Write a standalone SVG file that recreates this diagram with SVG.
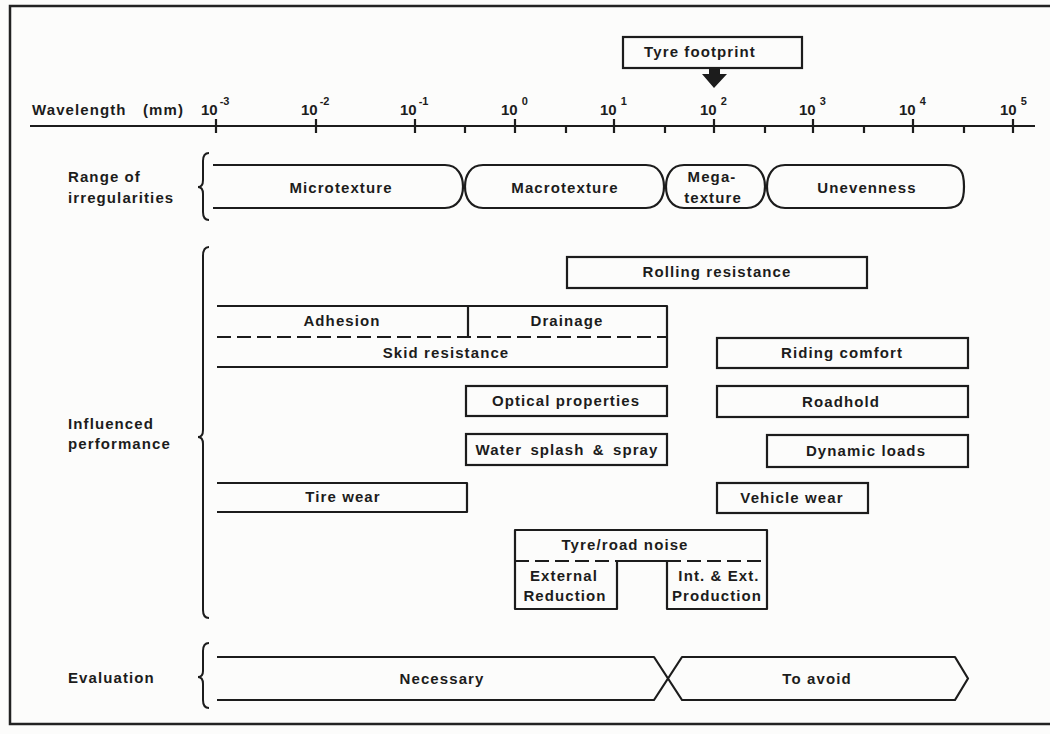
<svg xmlns="http://www.w3.org/2000/svg" width="1050" height="734" viewBox="0 0 1050 734">
<style>
.t{font-family:"Liberation Sans",Arial,Helvetica,sans-serif;font-weight:bold;font-size:15px;letter-spacing:1.1px;fill:#1c1c1c}
.c{text-anchor:middle}
.ax{font-family:"Liberation Sans",Arial,Helvetica,sans-serif;font-weight:bold;font-size:15px;fill:#1c1c1c}
.sup{font-size:11px}
.ln{fill:none;stroke:#1c1c1c;stroke-width:2.2;stroke-linejoin:round;stroke-linecap:butt}
.box{fill:none;stroke:#1c1c1c;stroke-width:2.2}
.dash{fill:none;stroke:#1c1c1c;stroke-width:2;stroke-dasharray:14 6}
.br{fill:none;stroke:#1c1c1c;stroke-width:2}
</style>
<rect width="1050" height="734" fill="#fcfcfb"/>
<rect x="10" y="6" width="1045" height="718" fill="none" stroke="#222" stroke-width="2.5"/>

<g id="axis">
  <text class="t" x="32" y="115">Wavelength</text>
  <text class="t" x="143" y="115">(mm)</text>
  <line class="ln" x1="30" y1="126" x2="1035" y2="126"/>
  <path class="ln" d="M216 119V133M316 119V133M415 119V133M515 119V133M614 119V133M714 119V133M813 119V133M913 119V133M1013 119V133"/>
  <path class="ln" d="M465 126V133M566 126V133M665 126V133M765 126V133M864 126V133M964 126V133"/>
  <text class="ax" x="201" y="115">10<tspan class="sup" dx="2" dy="-10">-3</tspan></text>
  <text class="ax" x="301" y="115">10<tspan class="sup" dx="2" dy="-10">-2</tspan></text>
  <text class="ax" x="400" y="115">10<tspan class="sup" dx="2" dy="-10">-1</tspan></text>
  <text class="ax" x="501" y="115">10<tspan class="sup" dx="4" dy="-10">0</tspan></text>
  <text class="ax" x="600" y="115">10<tspan class="sup" dx="4" dy="-10">1</tspan></text>
  <text class="ax" x="700" y="115">10<tspan class="sup" dx="4" dy="-10">2</tspan></text>
  <text class="ax" x="799" y="115">10<tspan class="sup" dx="4" dy="-10">3</tspan></text>
  <text class="ax" x="899" y="115">10<tspan class="sup" dx="4" dy="-10">4</tspan></text>
  <text class="ax" x="1000" y="115">10<tspan class="sup" dx="4" dy="-10">5</tspan></text>
</g>

<g id="tyre-footprint">
  <rect class="box" x="623" y="37" width="179" height="31"/>
  <text class="t c" x="700" y="57">Tyre footprint</text>
</g>

<g id="labels">
  <text class="t" x="68" y="182">Range of</text>
  <text class="t" x="68" y="203">irregularities</text>
  <text class="t" x="68" y="429">Influenced</text>
  <text class="t" x="68" y="449">performance</text>
  <text class="t" x="68" y="683">Evaluation</text>
  <path class="br" d="M209 153Q203 153 203 161V180Q203 187 198 187Q203 187 203 194V212Q203 220 209 220"/>
  <path class="br" d="M209 247Q203 247 203 256V430Q203 437 198 437Q203 437 203 444V610Q203 618 209 618"/>
  <path class="br" d="M209 643Q203 643 203 651V671Q203 677 198 677Q203 677 203 684V700Q203 708 209 708"/>
</g>

<g id="microtexture">
  <path class="ln" d="M213 165H445C458 165 463 176 463 186.5C463 197 458 208 445 208H213"/>
  <text class="t c" x="341" y="193">Microtexture</text>
</g>
<g id="macrotexture">
  <path class="ln" d="M483 165C470 165 465 176 465 186.5C465 197 470 208 483 208H646C659 208 664 197 664 186.5C664 176 659 165 646 165Z"/>
  <text class="t c" x="565" y="193">Macrotexture</text>
</g>
<g id="megatexture">
  <path class="ln" d="M684 165C671 165 666 176 666 186.5C666 197 671 208 684 208H747C760 208 765 197 765 186.5C765 176 760 165 747 165Z"/>
  <text class="t c" x="712" y="182">Mega-</text>
  <text class="t c" x="713" y="203">texture</text>
</g>
<g id="unevenness">
  <path class="ln" d="M785 165C772 165 767 176 767 186.5C767 197 772 208 785 208H946C961 208 964 201 964 186.5C964 172 961 165 946 165Z"/>
  <text class="t c" x="867" y="193">Unevenness</text>
</g>

<g id="rolling-resistance">
  <rect class="box" x="567" y="257" width="300" height="31"/>
  <text class="t c" x="717" y="277">Rolling resistance</text>
</g>
<g id="skid-resistance">
  <path class="ln" d="M217 306H667V367H217"/>
  <line class="ln" x1="468" y1="306" x2="468" y2="337"/>
  <line class="dash" x1="217" y1="337" x2="667" y2="337"/>
  <text class="t c" x="342" y="326">Adhesion</text>
  <text class="t c" x="567" y="326">Drainage</text>
  <text class="t c" x="446" y="358">Skid resistance</text>
</g>
<g id="riding-comfort">
  <rect class="box" x="717" y="338" width="251" height="30"/>
  <text class="t c" x="842" y="358">Riding comfort</text>
</g>
<g id="optical-properties">
  <rect class="box" x="466" y="386" width="201" height="30"/>
  <text class="t c" x="566" y="406">Optical properties</text>
</g>
<g id="roadhold">
  <rect class="box" x="717" y="386" width="251" height="31"/>
  <text class="t c" x="841" y="407">Roadhold</text>
</g>
<g id="water-splash">
  <rect class="box" x="466" y="434" width="201" height="31"/>
  <text class="t c" x="567" y="455" style="word-spacing:3px">Water splash &amp; spray</text>
</g>
<g id="dynamic-loads">
  <rect class="box" x="767" y="435" width="201" height="32"/>
  <text class="t c" x="866" y="456">Dynamic loads</text>
</g>
<g id="tire-wear">
  <path class="ln" d="M217 483H467V512H217"/>
  <text class="t c" x="343" y="502">Tire wear</text>
</g>
<g id="vehicle-wear">
  <rect class="box" x="717" y="483" width="151" height="30"/>
  <text class="t c" x="792" y="503">Vehicle wear</text>
</g>
<g id="tyre-road-noise">
  <path class="ln" d="M515 530H767V609H667V561H617V609H515Z"/>
  <line class="dash" x1="515" y1="561" x2="617" y2="561"/>
  <line class="dash" x1="667" y1="561" x2="767" y2="561"/>
  <text class="t c" x="625" y="550">Tyre/road noise</text>
  <text class="t c" x="564" y="581">External</text>
  <text class="t c" x="565" y="601">Reduction</text>
  <text class="t c" x="719" y="581">Int. &amp; Ext.</text>
  <text class="t c" x="717" y="601">Production</text>
</g>

<g id="necessary">
  <path class="ln" d="M217 657H654L668 678.5L654 700H217"/>
  <text class="t c" x="442" y="684">Necessary</text>
</g>
<g id="to-avoid">
  <path class="ln" d="M682 657H955L968 678.5L955 700H682L668 678.5Z"/>
  <text class="t c" x="817" y="684">To avoid</text>
</g>

<g id="connectors">
  <polygon points="709,68 720,68 720,74 727,74 714,88 702,74 709,74" fill="#1c1c1c"/>
</g>
</svg>
